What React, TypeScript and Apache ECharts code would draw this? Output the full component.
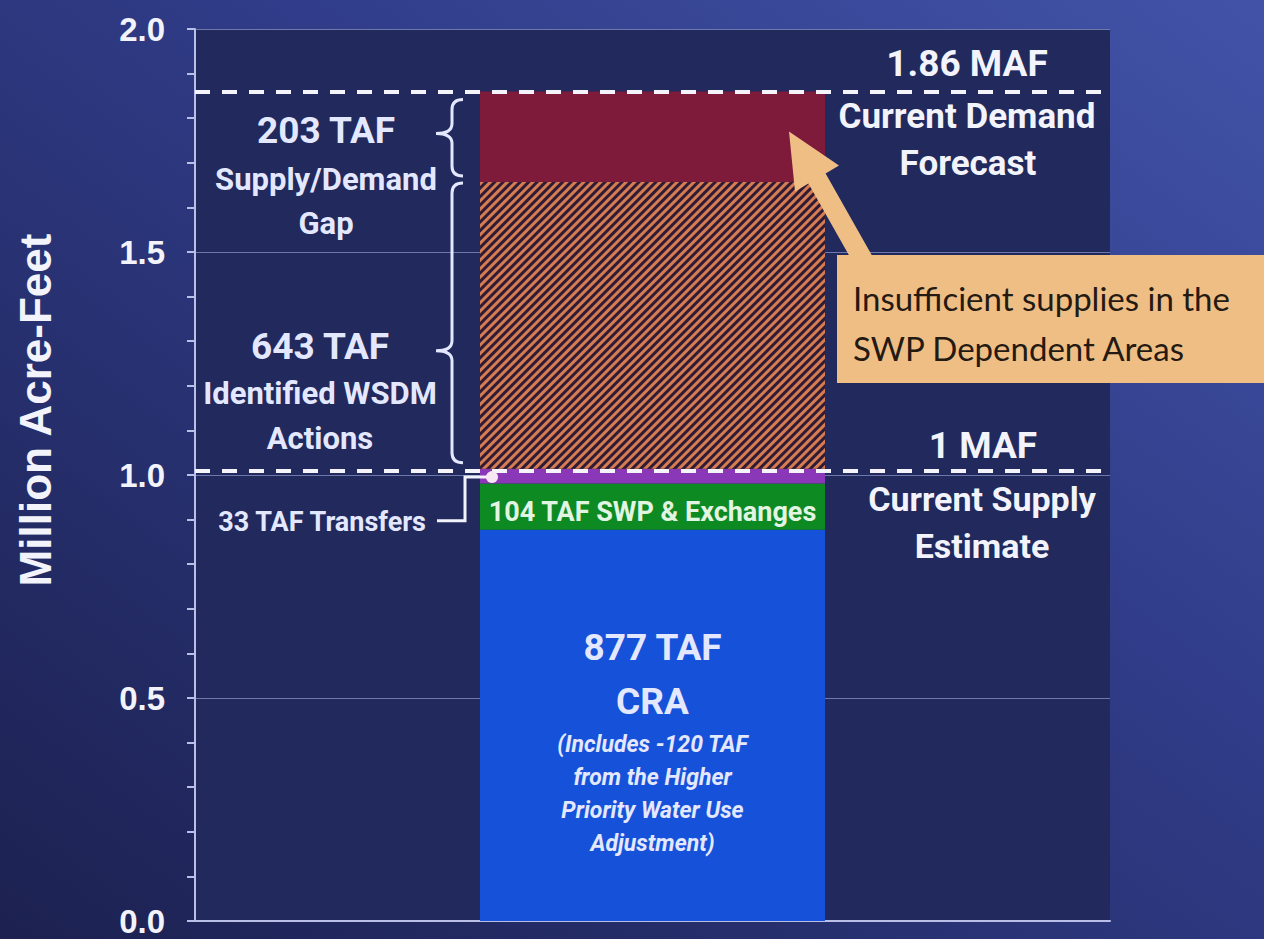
import React, { useEffect, useRef } from 'react';
import * as echarts from 'echarts';

const categories = ['Supply'];
const craValues = [0.877];
const swpValues = [0.104];
const transferValues = [0.033];
const wsdmValues = [0.643];
const gapValues = [0.203];
const yTickLabels = ['0.0', '0.5', '1.0', '1.5', '2.0'];

const W = 1264;
const H = 939;
const BAR_W = 345;
const TXT = '#e4e8ff';
const TXT2 = '#f2f3fb';
const AXIS = '#b9bfe6';

function bracePath(x: number, y0: number, y1: number, ym: number) {
  const hook = 11, tip = 16, r = 10;
  const xh = x + hook;
  const xt = x - tip;
  return `M${xh} ${y0} Q${x} ${y0} ${x} ${y0 + r} L${x} ${ym - r} Q${x} ${ym} ${xt} ${ym} Q${x} ${ym} ${x} ${ym + r} L${x} ${y1 - r} Q${x} ${y1} ${xh} ${y1}`;
}

export default function App() {
  const ref = useRef<HTMLDivElement>(null);
  useEffect(() => {
    const chart = echarts.init(ref.current!, null, { renderer: 'svg', width: W, height: H });
    const cra = craValues[0];
    const swp = swpValues[0];
    const tr = transferValues[0];
    const wsdm = wsdmValues[0];
    const gap = gapValues[0];
    const supply = cra + swp + tr;
    const demand = supply + wsdm + gap;

    const option: any = {
      animation: false,
      backgroundColor: 'transparent',
      textStyle: { fontFamily: 'Roboto' },
      grid: { left: 195, right: 154, top: 29, bottom: 18, show: true, backgroundColor: '#21295d', borderWidth: 0 },
      xAxis: {
        type: 'category',
        data: categories,
        axisLine: { show: true, lineStyle: { color: AXIS, width: 2 } },
        axisTick: { show: false },
        axisLabel: { show: false },
      },
      yAxis: {
        type: 'value',
        min: 0,
        max: 2,
        interval: 0.5,
        axisLine: { show: true, lineStyle: { color: AXIS, width: 2 } },
        axisTick: { show: true, length: 8, lineStyle: { color: AXIS, width: 2 } },
        minorTick: { show: true, splitNumber: 5, length: 8, lineStyle: { color: AXIS, width: 2 } },
        splitLine: { show: true, lineStyle: { color: 'rgba(175,185,235,0.55)', width: 1 } },
        axisLabel: {
          margin: 30,
          color: TXT2,
          fontSize: 33,
          fontWeight: 'bold',
          fontFamily: 'Liberation Sans',
          formatter: (v: number) => yTickLabels[Math.round(v / 0.5)] ?? v.toFixed(1),
        },
      },
      series: [
        {
          name: 'CRA',
          type: 'bar',
          stack: 's',
          barWidth: BAR_W,
          data: craValues,
          itemStyle: { color: '#1651d9' },
          label: {
            show: true,
            position: 'inside',
            offset: [0, 15],
            formatter: (p: any) =>
              `{a|${Math.round(p.value * 1000)} TAF}\n{a|CRA}\n{b|(Includes -120 TAF}\n{b|from the Higher}\n{b|Priority Water Use}\n{b|Adjustment)}`,
            rich: {
              a: { fontSize: 37, fontWeight: 'bold', color: TXT, lineHeight: 54, fontFamily: 'Roboto', align: 'center' },
              b: { fontSize: 23, fontWeight: 'bold', fontStyle: 'italic', color: TXT, lineHeight: 33, fontFamily: 'Roboto', align: 'center' },
            },
          },
        },
        {
          name: 'SWP & Exchanges',
          type: 'bar',
          stack: 's',
          data: swpValues,
          itemStyle: { color: '#0d8a22' },
          label: {
            show: true,
            position: 'inside',
            offset: [0, 5],
            fontSize: 27,
            fontWeight: 'bold',
            color: '#e2f4e2',
            formatter: (p: any) => `${Math.round(p.value * 1000)} TAF SWP & Exchanges`,
          },
        },
        {
          name: 'Transfers',
          type: 'bar',
          stack: 's',
          data: transferValues,
          itemStyle: { color: '#8a38b8' },
        },
        {
          name: 'Identified WSDM Actions',
          type: 'bar',
          stack: 's',
          data: wsdmValues,
          itemStyle: {
            color: '#301b34',
            decal: {
              symbol: 'rect',
              symbolSize: 1,
              dashArrayX: [1, 0],
              dashArrayY: [3, 3],
              rotation: -Math.PI / 4,
              color: '#d67c52',
            },
          },
        },
        {
          name: 'Supply/Demand Gap',
          type: 'bar',
          stack: 's',
          data: gapValues,
          itemStyle: { color: '#7e1a3a' },
          markLine: {
            silent: true,
            symbol: ['none', 'none'],
            label: { show: false },
            lineStyle: { color: '#f4f4fa', width: 4, type: [15, 12] },
            data: [{ yAxis: demand }, { yAxis: supply }],
          },
        },
      ],
    };
    chart.setOption(option);

    const yPx = (v: number) => chart.convertToPixel({ yAxisIndex: 0 }, v) as number;
    const xC = chart.convertToPixel({ xAxisIndex: 0 }, categories[0]) as number;
    const barL = xC - BAR_W / 2;
    const barR = xC + BAR_W / 2;
    const g1 = yPx(demand);
    const gm = yPx(supply + wsdm);
    const g2 = yPx(supply);
    const yT = yPx(supply - tr / 2);

    const braceX = barL - 28;
    echarts.graphic.registerShape('brace1', echarts.graphic.extendPath(bracePath(braceX, g1 + 8, gm - 6, g1 + 42), {}) as any);
    echarts.graphic.registerShape('brace2', echarts.graphic.extendPath(bracePath(braceX, gm + 1, g2 - 6, g2 - 118), {}) as any);

    const leftX = 326;
    const t = (text: string, x: number, y: number, size: number, opts: any = {}) => ({
      type: 'text',
      x,
      y,
      style: {
        text,
        fill: opts.fill ?? TXT,
        font: `${opts.italic ? 'italic ' : ''}${opts.weight ?? 'bold'} ${size}px ${opts.family ?? 'Roboto'}`,
        textAlign: opts.align ?? 'center',
        textVerticalAlign: 'middle',
      },
      z: 100,
    });

    // arrow
    const tip = [barR - 36, yPx(1.77)];
    const arrowPts = [
      tip,
      [tip[0] + 50, tip[1] + 34],
      [tip[0] + 36.6, tip[1] + 42],
      [tip[0] + 83.6, tip[1] + 125],
      [tip[0] + 66.4, tip[1] + 135],
      [tip[0] + 19.4, tip[1] + 52],
      [tip[0] + 6, tip[1] + 60],
    ];

    chart.setOption({
      graphic: [
        {
          type: 'text',
          x: 35,
          y: 410,
          rotation: Math.PI / 2,
          style: {
            text: 'Million Acre-Feet',
            fill: TXT2,
            font: 'bold 44px "Liberation Sans"',
            textAlign: 'center',
            textVerticalAlign: 'middle',
          },
        },
        t(`${Math.round(gap * 1000)} TAF`, leftX, g1 + 39, 37),
        t('Supply/Demand', leftX, g1 + 88, 31),
        t('Gap', leftX, g1 + 132, 31),
        t(`${Math.round(wsdm * 1000)} TAF`, 320, g2 - 122, 37),
        t('Identified WSDM', 320, g2 - 75, 31),
        t('Actions', 320, g2 - 30, 31),
        t(`${Math.round(tr * 1000)} TAF Transfers`, 426, g2 + 53, 27, { align: 'right' }),
        t(`${demand.toFixed(2)} MAF`, 967, g1 - 28, 37, { fill: TXT2 }),
        t('Current Demand', 967, g1 + 25, 35, { fill: TXT2 }),
        t('Forecast', 968, g1 + 72, 35, { fill: TXT2 }),
        t(`${Math.round(supply)} MAF`, 983, g2 - 23, 37, { fill: TXT2 }),
        t('Current Supply', 982, g2 + 30, 34, { fill: TXT2 }),
        t('Estimate', 982, g2 + 77, 34, { fill: TXT2 }),
        { type: 'brace1', style: { fill: 'none', stroke: TXT, lineWidth: 3 }, z: 100 },
        { type: 'brace2', style: { fill: 'none', stroke: TXT, lineWidth: 3 }, z: 100 },
        {
          type: 'polyline',
          shape: { points: [[437, g2 + 52], [465, g2 + 52], [465, yT + 1], [barL + 12, yT + 1]] },
          style: { stroke: '#f2f2fa', lineWidth: 3, fill: 'none' },
          z: 100,
        },
        { type: 'circle', shape: { cx: barL + 12, cy: yT + 1, r: 6 }, style: { fill: '#f7e6f4' }, z: 101 },
        { type: 'polygon', shape: { points: arrowPts }, style: { fill: '#efbe85' }, z: 100 },
        { type: 'rect', shape: { x: 837, y: 255, width: 440, height: 128 }, style: { fill: '#efbe85' }, z: 100 },
        t('Insufficient supplies in the', 853, 298, 33, { fill: '#241a12', weight: 'normal', family: 'Lato', align: 'left' }),
        t('SWP Dependent Areas', 853, 348, 33, { fill: '#241a12', weight: 'normal', family: 'Lato', align: 'left' }),
      ],
    });

    return () => chart.dispose();
  }, []);
  return (
    <div
      ref={ref}
      style={{
        position: 'fixed',
        left: 0,
        top: 0,
        width: W,
        height: H,
        background: 'linear-gradient(to bottom left, #4253a8 0%, #303c88 40%, #1c2150 100%)',
      }}
    />
  );
}
